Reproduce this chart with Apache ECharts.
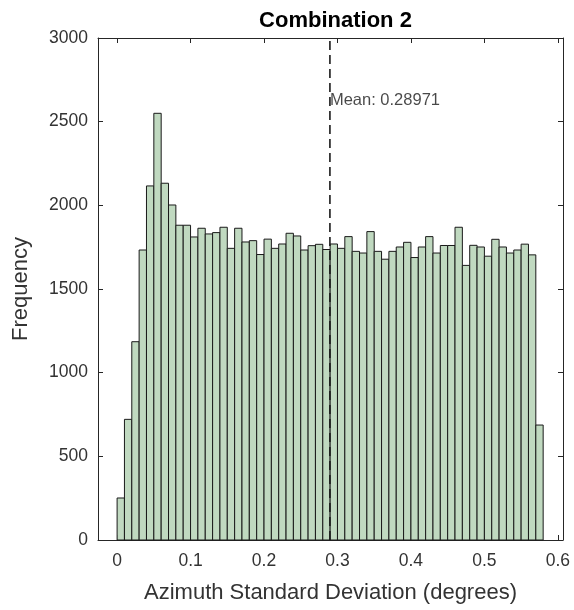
<!DOCTYPE html>
<html>
<head>
<meta charset="utf-8">
<script src="https://cdn.jsdelivr.net/npm/echarts@6/dist/echarts.min.js"></script>
<style>
html,body{margin:0;padding:0;background:#fff;}
#chart{width:574px;height:610px;}
</style>
</head>
<body>
<div id="chart"></div>
<script>
// Histogram data
const binStart = 0;
const binWidth = 0.01;
const counts = [251, 721, 1185, 1733, 2116, 2550, 2132, 2002, 1881, 1881,
  1811, 1863, 1829, 1837, 1869, 1743, 1863, 1781, 1789, 1706,
  1798, 1743, 1769, 1833, 1817, 1733, 1759, 1767, 1736, 1769,
  1743, 1813, 1725, 1715, 1843, 1725, 1678, 1725, 1751, 1779,
  1688, 1751, 1813, 1715, 1760, 1760, 1869, 1641, 1761, 1751,
  1696, 1797, 1751, 1715, 1733, 1768, 1704, 687];
const meanValue = 0.28971;
const meanLabel = 'Mean: 0.28971';
const xTicks = [0, 0.1, 0.2, 0.3, 0.4, 0.5, 0.6];
const yTicks = [0, 500, 1000, 1500, 2000, 2500, 3000];
const titleText = 'Combination 2';
const xLabel = 'Azimuth Standard Deviation (degrees)';
const yLabel = 'Frequency';

const histData = counts.map((c, i) => [binStart + i * binWidth, binStart + (i + 1) * binWidth, c]);

const axisColor = '#262626';
const labelColor = '#333333';
const font = 'Liberation Sans, Arial, Helvetica, sans-serif';

const chart = echarts.init(document.getElementById('chart'), null, {renderer: 'canvas'});
chart.setOption({
  animation: false,
  backgroundColor: '#ffffff',
  title: {
    text: titleText,
    left: 330.5,
    textAlign: 'center',
    top: 5,
    textStyle: {fontFamily: font, fontSize: 22, fontWeight: 'bold', color: '#000'}
  },
  grid: {left: 98, right: 11, top: 38, bottom: 70, containLabel: false},
  xAxis: [{
    type: 'value', min: -0.026, max: 0.607, position: 'bottom',
    name: xLabel, nameLocation: 'middle', nameGap: 42,
    nameTextStyle: {fontFamily: font, fontSize: 22, color: labelColor},
    axisLine: {show: true, onZero: false, lineStyle: {color: axisColor, width: 1}},
    axisTick: {show: true, inside: true, length: 5, customValues: xTicks, lineStyle: {color: axisColor}},
    axisLabel: {show: true, customValues: xTicks, margin: 12, fontFamily: font, fontSize: 17.5, color: labelColor,
      formatter: v => String(Math.round(v * 10) / 10)},
    splitLine: {show: false}
  }, {
    type: 'value', min: -0.026, max: 0.607, position: 'top',
    axisLine: {show: true, onZero: false, lineStyle: {color: axisColor, width: 1}},
    axisTick: {show: true, inside: true, length: 5, customValues: xTicks, lineStyle: {color: axisColor}},
    axisLabel: {show: false},
    splitLine: {show: false}
  }],
  yAxis: [{
    type: 'value', min: 0, max: 3000, interval: 500, position: 'left',
    name: yLabel, nameLocation: 'middle', nameGap: 66,
    nameTextStyle: {fontFamily: font, fontSize: 22, color: labelColor},
    axisLine: {show: true, onZero: false, lineStyle: {color: axisColor, width: 1}},
    axisTick: {show: true, inside: true, length: 5, lineStyle: {color: axisColor}},
    axisLabel: {show: true, margin: 10, fontFamily: font, fontSize: 17.5, color: labelColor,
      formatter: v => String(v)},
    splitLine: {show: false}
  }, {
    type: 'value', min: 0, max: 3000, interval: 500, position: 'right',
    axisLine: {show: true, onZero: false, lineStyle: {color: axisColor, width: 1}},
    axisTick: {show: true, inside: true, length: 5, lineStyle: {color: axisColor}},
    axisLabel: {show: false},
    splitLine: {show: false}
  }],
  series: [{
    type: 'custom',
    xAxisIndex: 0, yAxisIndex: 0,
    data: histData,
    encode: {x: [0, 1], y: 2},
    renderItem: function (params, api) {
      const x0 = api.value(0), x1 = api.value(1), v = api.value(2);
      const pTop = api.coord([x0, v]);
      const pBot = api.coord([x1, 0]);
      return {
        type: 'rect',
        shape: {x: pTop[0], y: pTop[1], width: pBot[0] - pTop[0], height: pBot[1] - pTop[1]},
        style: {fill: '#c0d9c0', stroke: '#1a1a1a', lineWidth: 1}
      };
    }
  }, {
    type: 'line',
    xAxisIndex: 0, yAxisIndex: 0,
    data: [[meanValue, 0], [meanValue, 3000]],
    symbol: 'none',
    lineStyle: {color: '#1a1a1a', width: 1.6, type: [9, 5]},
    z: 5
  }, {
    type: 'scatter',
    xAxisIndex: 0, yAxisIndex: 0,
    data: [[meanValue, 2624]],
    symbolSize: 0,
    label: {show: true, position: 'right', distance: 0, formatter: meanLabel,
      fontFamily: font, fontSize: 16.5, color: '#1a1a1a'},
    z: 6
  }]
});
</script>
</body>
</html>
